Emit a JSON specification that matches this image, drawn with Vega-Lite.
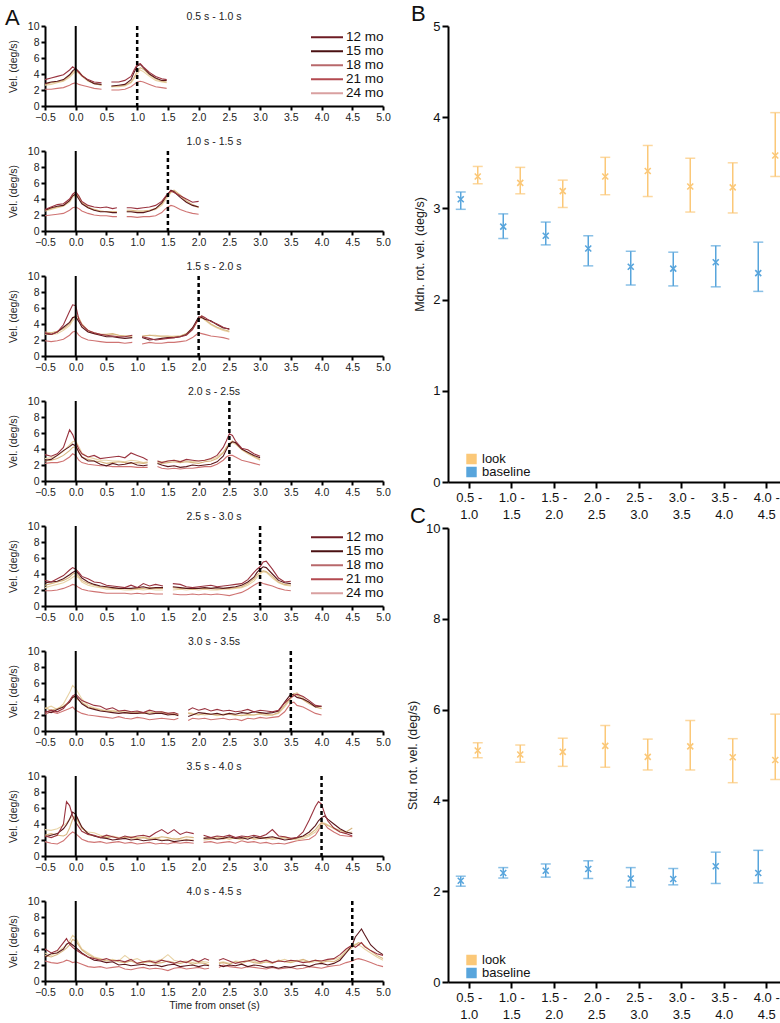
{
"$schema": "https://vega.github.io/schema/vega-lite/v6.json",
"background": "white",
"padding": {"left": 5, "top": 3, "right": 0, "bottom": 0},
"config": {
  "view": {"stroke": null},
  "font": "Liberation Sans",
  "axis": {"domainColor": "#000", "domainWidth": 2, "tickColor": "#000", "tickWidth": 2, "tickSize": 4, "labelColor": "#222", "labelFontSize": 10.5, "titleFontSize": 10.5, "titleFontWeight": "normal", "titleColor": "#222", "grid": false, "labelPadding": 2, "labelOverlap": false, "labelFlush": false, "labelFont": "Liberation Sans", "titleFont": "Liberation Sans"},
  "title": {"fontSize": 10.5, "fontWeight": "normal", "color": "#222", "offset": -1, "frame": "group", "font": "Liberation Sans"},
  "legend": {"labelFont": "Liberation Sans"}
},
"datasets": {
"refs": [
{"p":1,"t":0,"k":"on"},{"p":1,"t":1.0,"k":"end"},
{"p":2,"t":0,"k":"on"},{"p":2,"t":1.5,"k":"end"},
{"p":3,"t":0,"k":"on"},{"p":3,"t":2.0,"k":"end"},
{"p":4,"t":0,"k":"on"},{"p":4,"t":2.5,"k":"end"},
{"p":5,"t":0,"k":"on"},{"p":5,"t":3.0,"k":"end"},
{"p":6,"t":0,"k":"on"},{"p":6,"t":3.5,"k":"end"},
{"p":7,"t":0,"k":"on"},{"p":7,"t":4.0,"k":"end"},
{"p":8,"t":0,"k":"on"},{"p":8,"t":4.5,"k":"end"}
],
"traces": [
{"p":1,"s":1,"t":-0.5,"m12":3.3,"m15":2.8,"m18":2.7,"m21":2.1,"m24":2.6},
{"p":1,"s":1,"t":-0.4,"m12":3.5,"m15":3.0,"m18":2.9,"m21":2.1,"m24":2.7},
{"p":1,"s":1,"t":-0.3,"m12":3.7,"m15":3.1,"m18":3.0,"m21":2.2,"m24":2.9},
{"p":1,"s":1,"t":-0.2,"m12":3.9,"m15":3.3,"m18":3.2,"m21":2.3,"m24":3.1},
{"p":1,"s":1,"t":-0.1,"m12":4.5,"m15":3.9,"m18":3.8,"m21":2.6,"m24":3.6},
{"p":1,"s":1,"t":-0.05,"m12":4.9,"m15":4.4,"m18":4.2,"m21":2.8,"m24":4.0},
{"p":1,"s":1,"t":0,"m12":4.6,"m15":4.7,"m18":4.5,"m21":2.9,"m24":4.3},
{"p":1,"s":1,"t":0.05,"m12":4.2,"m15":4.3,"m18":4.3,"m21":2.7,"m24":4.1},
{"p":1,"s":1,"t":0.1,"m12":3.8,"m15":3.8,"m18":3.9,"m21":2.6,"m24":3.7},
{"p":1,"s":1,"t":0.2,"m12":3.3,"m15":3.2,"m18":3.2,"m21":2.4,"m24":3.1},
{"p":1,"s":1,"t":0.3,"m12":3.0,"m15":2.8,"m18":2.8,"m21":2.2,"m24":2.8},
{"p":1,"s":1,"t":0.42,"m12":2.9,"m15":2.7,"m18":2.6,"m21":2.1,"m24":2.6},
{"p":1,"s":2,"t":0.58,"m12":3.0,"m15":2.5,"m18":2.4,"m21":2.0,"m24":2.4},
{"p":1,"s":2,"t":0.7,"m12":3.0,"m15":2.6,"m18":2.5,"m21":2.0,"m24":2.4},
{"p":1,"s":2,"t":0.8,"m12":3.2,"m15":2.7,"m18":2.6,"m21":2.1,"m24":2.5},
{"p":1,"s":2,"t":0.9,"m12":3.7,"m15":3.3,"m18":3.0,"m21":2.4,"m24":2.9},
{"p":1,"s":2,"t":0.95,"m12":4.5,"m15":4.2,"m18":3.6,"m21":2.7,"m24":3.4},
{"p":1,"s":2,"t":1.0,"m12":5.2,"m15":5.0,"m18":4.3,"m21":3.0,"m24":4.0},
{"p":1,"s":2,"t":1.05,"m12":5.3,"m15":5.2,"m18":4.8,"m21":3.1,"m24":4.5},
{"p":1,"s":2,"t":1.1,"m12":4.9,"m15":4.8,"m18":4.6,"m21":3.0,"m24":4.3},
{"p":1,"s":2,"t":1.2,"m12":4.2,"m15":4.0,"m18":3.9,"m21":2.7,"m24":3.7},
{"p":1,"s":2,"t":1.3,"m12":3.7,"m15":3.5,"m18":3.4,"m21":2.4,"m24":3.2},
{"p":1,"s":2,"t":1.4,"m12":3.4,"m15":3.2,"m18":3.1,"m21":2.3,"m24":3.0},
{"p":1,"s":2,"t":1.48,"m12":3.3,"m15":3.2,"m18":3.0,"m21":2.2,"m24":2.9},
{"p":2,"s":1,"t":-0.5,"m12":2.7,"m15":2.6,"m18":2.6,"m21":1.9,"m24":2.5},
{"p":2,"s":1,"t":-0.4,"m12":3.0,"m15":2.9,"m18":2.8,"m21":2.0,"m24":2.7},
{"p":2,"s":1,"t":-0.3,"m12":3.3,"m15":3.1,"m18":3.0,"m21":2.1,"m24":2.9},
{"p":2,"s":1,"t":-0.2,"m12":3.4,"m15":3.2,"m18":3.2,"m21":2.2,"m24":3.1},
{"p":2,"s":1,"t":-0.1,"m12":4.0,"m15":3.8,"m18":3.8,"m21":2.6,"m24":3.6},
{"p":2,"s":1,"t":-0.05,"m12":4.6,"m15":4.4,"m18":4.4,"m21":2.9,"m24":4.2},
{"p":2,"s":1,"t":0,"m12":4.9,"m15":4.6,"m18":4.7,"m21":3.0,"m24":4.5},
{"p":2,"s":1,"t":0.05,"m12":4.4,"m15":4.0,"m18":4.3,"m21":2.8,"m24":4.2},
{"p":2,"s":1,"t":0.1,"m12":3.7,"m15":3.4,"m18":3.6,"m21":2.5,"m24":3.5},
{"p":2,"s":1,"t":0.2,"m12":3.2,"m15":2.9,"m18":3.0,"m21":2.2,"m24":2.9},
{"p":2,"s":1,"t":0.3,"m12":3.0,"m15":2.6,"m18":2.7,"m21":2.0,"m24":2.6},
{"p":2,"s":1,"t":0.4,"m12":2.9,"m15":2.4,"m18":2.5,"m21":1.9,"m24":2.5},
{"p":2,"s":1,"t":0.5,"m12":3.0,"m15":2.4,"m18":2.4,"m21":1.9,"m24":2.4},
{"p":2,"s":1,"t":0.6,"m12":2.8,"m15":2.3,"m18":2.4,"m21":1.8,"m24":2.4},
{"p":2,"s":1,"t":0.67,"m12":2.9,"m15":2.3,"m18":2.4,"m21":1.8,"m24":2.4},
{"p":2,"s":2,"t":0.83,"m12":2.9,"m15":2.4,"m18":2.6,"m21":1.8,"m24":2.4},
{"p":2,"s":2,"t":0.9,"m12":2.9,"m15":2.4,"m18":2.6,"m21":1.8,"m24":2.4},
{"p":2,"s":2,"t":1.0,"m12":2.8,"m15":2.3,"m18":2.5,"m21":1.7,"m24":2.4},
{"p":2,"s":2,"t":1.1,"m12":2.9,"m15":2.3,"m18":2.5,"m21":1.8,"m24":2.4},
{"p":2,"s":2,"t":1.2,"m12":3.0,"m15":2.5,"m18":2.6,"m21":1.8,"m24":2.5},
{"p":2,"s":2,"t":1.3,"m12":3.2,"m15":2.8,"m18":2.8,"m21":1.9,"m24":2.7},
{"p":2,"s":2,"t":1.4,"m12":3.7,"m15":3.5,"m18":3.4,"m21":2.3,"m24":3.2},
{"p":2,"s":2,"t":1.45,"m12":4.2,"m15":4.1,"m18":4.0,"m21":2.7,"m24":3.8},
{"p":2,"s":2,"t":1.5,"m12":4.7,"m15":4.6,"m18":4.5,"m21":3.0,"m24":4.3},
{"p":2,"s":2,"t":1.55,"m12":5.0,"m15":5.1,"m18":4.9,"m21":3.2,"m24":4.8},
{"p":2,"s":2,"t":1.6,"m12":4.8,"m15":4.9,"m18":5.1,"m21":3.1,"m24":5.0},
{"p":2,"s":2,"t":1.7,"m12":4.4,"m15":4.2,"m18":4.5,"m21":2.7,"m24":4.4},
{"p":2,"s":2,"t":1.8,"m12":4.0,"m15":3.6,"m18":3.8,"m21":2.4,"m24":3.7},
{"p":2,"s":2,"t":1.9,"m12":3.6,"m15":3.2,"m18":3.3,"m21":2.2,"m24":3.2},
{"p":2,"s":2,"t":2.0,"m12":3.7,"m15":3.0,"m18":3.0,"m21":2.1,"m24":2.9},
{"p":3,"s":1,"t":-0.5,"m12":2.9,"m15":2.8,"m18":3.0,"m21":1.9,"m24":2.7},
{"p":3,"s":1,"t":-0.4,"m12":2.7,"m15":2.7,"m18":2.9,"m21":1.8,"m24":2.7},
{"p":3,"s":1,"t":-0.3,"m12":3.0,"m15":3.0,"m18":3.1,"m21":1.9,"m24":2.8},
{"p":3,"s":1,"t":-0.2,"m12":3.9,"m15":3.6,"m18":3.4,"m21":2.1,"m24":3.2},
{"p":3,"s":1,"t":-0.1,"m12":5.6,"m15":4.2,"m18":4.0,"m21":2.6,"m24":3.8},
{"p":3,"s":1,"t":-0.05,"m12":6.4,"m15":4.8,"m18":4.7,"m21":3.0,"m24":4.4},
{"p":3,"s":1,"t":0,"m12":6.3,"m15":4.9,"m18":5.1,"m21":3.1,"m24":4.8},
{"p":3,"s":1,"t":0.05,"m12":4.6,"m15":4.3,"m18":4.8,"m21":2.6,"m24":4.6},
{"p":3,"s":1,"t":0.1,"m12":3.9,"m15":3.6,"m18":4.0,"m21":2.3,"m24":3.8},
{"p":3,"s":1,"t":0.2,"m12":3.2,"m15":3.0,"m18":3.2,"m21":2.0,"m24":3.1},
{"p":3,"s":1,"t":0.3,"m12":2.9,"m15":2.8,"m18":2.9,"m21":1.9,"m24":2.8},
{"p":3,"s":1,"t":0.4,"m12":2.7,"m15":2.6,"m18":2.7,"m21":1.8,"m24":2.7},
{"p":3,"s":1,"t":0.5,"m12":2.6,"m15":2.4,"m18":2.7,"m21":1.7,"m24":2.6},
{"p":3,"s":1,"t":0.6,"m12":2.5,"m15":2.4,"m18":2.8,"m21":1.7,"m24":2.7},
{"p":3,"s":1,"t":0.7,"m12":2.4,"m15":2.3,"m18":2.6,"m21":1.7,"m24":2.6},
{"p":3,"s":1,"t":0.8,"m12":2.4,"m15":2.2,"m18":2.5,"m21":1.6,"m24":2.5},
{"p":3,"s":1,"t":0.92,"m12":2.6,"m15":2.3,"m18":2.5,"m21":1.7,"m24":2.4},
{"p":3,"s":2,"t":1.08,"m12":2.4,"m15":2.3,"m18":2.5,"m21":1.5,"m24":2.4},
{"p":3,"s":2,"t":1.2,"m12":2.2,"m15":2.0,"m18":2.6,"m21":1.7,"m24":2.6},
{"p":3,"s":2,"t":1.3,"m12":2.0,"m15":2.1,"m18":2.5,"m21":1.6,"m24":2.6},
{"p":3,"s":2,"t":1.4,"m12":2.1,"m15":2.2,"m18":2.5,"m21":1.6,"m24":2.4},
{"p":3,"s":2,"t":1.5,"m12":2.2,"m15":2.3,"m18":2.5,"m21":1.7,"m24":2.4},
{"p":3,"s":2,"t":1.6,"m12":2.3,"m15":2.3,"m18":2.4,"m21":1.7,"m24":2.5},
{"p":3,"s":2,"t":1.7,"m12":2.4,"m15":2.4,"m18":2.5,"m21":1.8,"m24":2.5},
{"p":3,"s":2,"t":1.8,"m12":2.6,"m15":2.7,"m18":2.8,"m21":1.9,"m24":2.7},
{"p":3,"s":2,"t":1.9,"m12":3.3,"m15":3.5,"m18":3.5,"m21":2.3,"m24":3.3},
{"p":3,"s":2,"t":1.95,"m12":4.0,"m15":4.2,"m18":4.1,"m21":2.6,"m24":3.9},
{"p":3,"s":2,"t":2.0,"m12":4.6,"m15":4.9,"m18":4.8,"m21":2.9,"m24":4.6},
{"p":3,"s":2,"t":2.05,"m12":5.0,"m15":4.8,"m18":5.0,"m21":2.8,"m24":4.8},
{"p":3,"s":2,"t":2.1,"m12":4.8,"m15":4.6,"m18":4.6,"m21":2.7,"m24":4.5},
{"p":3,"s":2,"t":2.2,"m12":4.3,"m15":4.4,"m18":4.0,"m21":2.5,"m24":3.9},
{"p":3,"s":2,"t":2.3,"m12":4.0,"m15":3.9,"m18":3.6,"m21":2.4,"m24":3.5},
{"p":3,"s":2,"t":2.4,"m12":3.6,"m15":3.5,"m18":3.3,"m21":2.3,"m24":3.2},
{"p":3,"s":2,"t":2.5,"m12":3.3,"m15":3.4,"m18":3.1,"m21":2.1,"m24":3.0},
{"p":4,"s":1,"t":-0.5,"m12":3.3,"m15":2.6,"m18":2.5,"m21":2.2,"m24":2.8},
{"p":4,"s":1,"t":-0.4,"m12":3.1,"m15":2.7,"m18":2.6,"m21":2.3,"m24":2.9},
{"p":4,"s":1,"t":-0.3,"m12":3.4,"m15":3.2,"m18":2.8,"m21":2.3,"m24":3.2},
{"p":4,"s":1,"t":-0.2,"m12":4.2,"m15":3.8,"m18":3.2,"m21":2.5,"m24":3.7},
{"p":4,"s":1,"t":-0.1,"m12":6.4,"m15":4.3,"m18":3.8,"m21":3.0,"m24":4.5},
{"p":4,"s":1,"t":-0.05,"m12":5.8,"m15":4.6,"m18":4.2,"m21":3.4,"m24":4.9},
{"p":4,"s":1,"t":0,"m12":4.8,"m15":4.4,"m18":4.3,"m21":3.2,"m24":5.0},
{"p":4,"s":1,"t":0.05,"m12":4.0,"m15":3.6,"m18":3.7,"m21":2.6,"m24":4.3},
{"p":4,"s":1,"t":0.1,"m12":3.4,"m15":3.0,"m18":3.0,"m21":2.3,"m24":3.5},
{"p":4,"s":1,"t":0.2,"m12":3.0,"m15":2.5,"m18":2.7,"m21":2.1,"m24":3.0},
{"p":4,"s":1,"t":0.3,"m12":3.2,"m15":2.5,"m18":2.5,"m21":2.0,"m24":2.8},
{"p":4,"s":1,"t":0.4,"m12":2.8,"m15":2.1,"m18":2.4,"m21":1.9,"m24":2.6},
{"p":4,"s":1,"t":0.5,"m12":2.9,"m15":1.9,"m18":2.2,"m21":1.9,"m24":2.6},
{"p":4,"s":1,"t":0.6,"m12":3.0,"m15":2.2,"m18":2.3,"m21":1.8,"m24":2.5},
{"p":4,"s":1,"t":0.7,"m12":3.1,"m15":2.0,"m18":2.4,"m21":1.8,"m24":2.5},
{"p":4,"s":1,"t":0.8,"m12":2.9,"m15":2.1,"m18":2.3,"m21":1.8,"m24":2.4},
{"p":4,"s":1,"t":0.9,"m12":3.5,"m15":2.3,"m18":2.2,"m21":1.8,"m24":2.6},
{"p":4,"s":1,"t":1.0,"m12":3.2,"m15":2.0,"m18":2.3,"m21":1.7,"m24":2.5},
{"p":4,"s":1,"t":1.1,"m12":2.9,"m15":1.9,"m18":2.2,"m21":1.7,"m24":2.3},
{"p":4,"s":1,"t":1.17,"m12":2.6,"m15":2.0,"m18":2.3,"m21":1.7,"m24":2.4},
{"p":4,"s":2,"t":1.33,"m12":2.5,"m15":2.2,"m18":2.3,"m21":1.8,"m24":2.5},
{"p":4,"s":2,"t":1.4,"m12":2.3,"m15":2.0,"m18":2.2,"m21":1.6,"m24":2.4},
{"p":4,"s":2,"t":1.5,"m12":2.5,"m15":1.8,"m18":2.3,"m21":1.5,"m24":2.5},
{"p":4,"s":2,"t":1.6,"m12":2.6,"m15":1.9,"m18":2.4,"m21":1.6,"m24":2.6},
{"p":4,"s":2,"t":1.7,"m12":2.4,"m15":1.7,"m18":2.3,"m21":1.5,"m24":2.5},
{"p":4,"s":2,"t":1.8,"m12":2.7,"m15":1.8,"m18":2.4,"m21":1.6,"m24":2.5},
{"p":4,"s":2,"t":1.9,"m12":2.6,"m15":2.0,"m18":2.3,"m21":1.6,"m24":2.4},
{"p":4,"s":2,"t":2.0,"m12":2.5,"m15":1.9,"m18":2.2,"m21":1.7,"m24":2.5},
{"p":4,"s":2,"t":2.1,"m12":2.6,"m15":2.0,"m18":2.4,"m21":1.8,"m24":2.6},
{"p":4,"s":2,"t":2.2,"m12":2.8,"m15":2.1,"m18":2.5,"m21":1.8,"m24":2.7},
{"p":4,"s":2,"t":2.3,"m12":3.2,"m15":2.4,"m18":2.8,"m21":2.1,"m24":3.0},
{"p":4,"s":2,"t":2.4,"m12":4.2,"m15":3.1,"m18":3.5,"m21":2.6,"m24":3.6},
{"p":4,"s":2,"t":2.45,"m12":5.0,"m15":3.9,"m18":4.2,"m21":3.0,"m24":4.1},
{"p":4,"s":2,"t":2.5,"m12":5.9,"m15":4.6,"m18":4.7,"m21":3.2,"m24":4.5},
{"p":4,"s":2,"t":2.55,"m12":5.7,"m15":4.9,"m18":5.0,"m21":3.2,"m24":4.8},
{"p":4,"s":2,"t":2.6,"m12":5.0,"m15":4.8,"m18":4.7,"m21":3.0,"m24":4.6},
{"p":4,"s":2,"t":2.7,"m12":4.1,"m15":4.0,"m18":4.0,"m21":2.6,"m24":3.9},
{"p":4,"s":2,"t":2.8,"m12":3.9,"m15":3.6,"m18":3.5,"m21":2.4,"m24":3.4},
{"p":4,"s":2,"t":2.9,"m12":3.4,"m15":3.2,"m18":3.1,"m21":2.2,"m24":3.0},
{"p":4,"s":2,"t":3.0,"m12":3.1,"m15":2.9,"m18":2.7,"m21":2.0,"m24":2.6},
{"p":5,"s":1,"t":-0.5,"m12":3.2,"m15":2.9,"m18":2.6,"m21":1.9,"m24":2.3},
{"p":5,"s":1,"t":-0.4,"m12":3.0,"m15":3.0,"m18":2.8,"m21":1.9,"m24":2.5},
{"p":5,"s":1,"t":-0.3,"m12":3.4,"m15":3.1,"m18":3.0,"m21":2.0,"m24":2.7},
{"p":5,"s":1,"t":-0.2,"m12":3.8,"m15":3.4,"m18":3.2,"m21":2.2,"m24":2.9},
{"p":5,"s":1,"t":-0.1,"m12":4.5,"m15":3.9,"m18":3.6,"m21":2.5,"m24":3.3},
{"p":5,"s":1,"t":-0.05,"m12":4.8,"m15":4.2,"m18":4.0,"m21":2.7,"m24":3.6},
{"p":5,"s":1,"t":0,"m12":4.6,"m15":4.4,"m18":4.1,"m21":2.6,"m24":3.8},
{"p":5,"s":1,"t":0.05,"m12":4.2,"m15":4.0,"m18":3.7,"m21":2.3,"m24":3.5},
{"p":5,"s":1,"t":0.1,"m12":3.7,"m15":3.5,"m18":3.2,"m21":2.1,"m24":3.0},
{"p":5,"s":1,"t":0.2,"m12":3.4,"m15":3.0,"m18":2.8,"m21":1.9,"m24":2.6},
{"p":5,"s":1,"t":0.3,"m12":3.0,"m15":2.7,"m18":2.6,"m21":1.8,"m24":2.4},
{"p":5,"s":1,"t":0.4,"m12":2.9,"m15":2.5,"m18":2.4,"m21":1.7,"m24":2.3},
{"p":5,"s":1,"t":0.5,"m12":2.6,"m15":2.4,"m18":2.3,"m21":1.6,"m24":2.1},
{"p":5,"s":1,"t":0.6,"m12":2.5,"m15":2.3,"m18":2.2,"m21":1.6,"m24":2.1},
{"p":5,"s":1,"t":0.7,"m12":2.4,"m15":2.2,"m18":2.2,"m21":1.6,"m24":2.1},
{"p":5,"s":1,"t":0.8,"m12":2.3,"m15":2.2,"m18":2.2,"m21":1.6,"m24":2.0},
{"p":5,"s":1,"t":0.9,"m12":2.6,"m15":2.2,"m18":2.1,"m21":1.5,"m24":2.0},
{"p":5,"s":1,"t":1.0,"m12":2.3,"m15":2.3,"m18":2.2,"m21":1.6,"m24":2.1},
{"p":5,"s":1,"t":1.1,"m12":2.8,"m15":2.4,"m18":2.2,"m21":1.5,"m24":2.0},
{"p":5,"s":1,"t":1.2,"m12":2.5,"m15":2.2,"m18":2.3,"m21":1.6,"m24":2.1},
{"p":5,"s":1,"t":1.3,"m12":2.7,"m15":2.3,"m18":2.2,"m21":1.5,"m24":2.0},
{"p":5,"s":1,"t":1.42,"m12":2.5,"m15":2.3,"m18":2.2,"m21":1.5,"m24":2.0},
{"p":5,"s":2,"t":1.58,"m12":2.8,"m15":2.4,"m18":2.3,"m21":1.5,"m24":2.0},
{"p":5,"s":2,"t":1.7,"m12":2.7,"m15":2.3,"m18":2.2,"m21":1.4,"m24":2.1},
{"p":5,"s":2,"t":1.8,"m12":2.4,"m15":2.2,"m18":2.2,"m21":1.4,"m24":2.0},
{"p":5,"s":2,"t":1.9,"m12":2.3,"m15":2.2,"m18":2.1,"m21":1.5,"m24":2.1},
{"p":5,"s":2,"t":2.0,"m12":2.4,"m15":2.2,"m18":2.2,"m21":1.4,"m24":2.0},
{"p":5,"s":2,"t":2.1,"m12":2.5,"m15":2.3,"m18":2.2,"m21":1.5,"m24":2.1},
{"p":5,"s":2,"t":2.2,"m12":2.6,"m15":2.2,"m18":2.2,"m21":1.4,"m24":2.0},
{"p":5,"s":2,"t":2.3,"m12":2.4,"m15":2.3,"m18":2.1,"m21":1.5,"m24":2.0},
{"p":5,"s":2,"t":2.4,"m12":2.5,"m15":2.2,"m18":2.2,"m21":1.4,"m24":2.1},
{"p":5,"s":2,"t":2.5,"m12":2.6,"m15":2.3,"m18":2.2,"m21":1.3,"m24":2.1},
{"p":5,"s":2,"t":2.6,"m12":2.7,"m15":2.4,"m18":2.3,"m21":1.5,"m24":2.2},
{"p":5,"s":2,"t":2.7,"m12":2.8,"m15":2.6,"m18":2.4,"m21":1.7,"m24":2.3},
{"p":5,"s":2,"t":2.8,"m12":3.3,"m15":3.0,"m18":2.8,"m21":2.1,"m24":2.6},
{"p":5,"s":2,"t":2.9,"m12":4.2,"m15":3.6,"m18":3.4,"m21":2.6,"m24":3.1},
{"p":5,"s":2,"t":2.95,"m12":4.6,"m15":4.2,"m18":3.9,"m21":2.8,"m24":3.6},
{"p":5,"s":2,"t":3.0,"m12":4.9,"m15":4.6,"m18":4.2,"m21":3.0,"m24":4.0},
{"p":5,"s":2,"t":3.05,"m12":5.5,"m15":4.9,"m18":4.4,"m21":2.8,"m24":4.3},
{"p":5,"s":2,"t":3.1,"m12":5.6,"m15":4.8,"m18":4.3,"m21":2.7,"m24":4.2},
{"p":5,"s":2,"t":3.2,"m12":4.6,"m15":4.0,"m18":3.7,"m21":2.5,"m24":3.5},
{"p":5,"s":2,"t":3.3,"m12":3.5,"m15":3.2,"m18":3.0,"m21":2.2,"m24":2.9},
{"p":5,"s":2,"t":3.4,"m12":3.0,"m15":2.9,"m18":2.7,"m21":2.0,"m24":2.6},
{"p":5,"s":2,"t":3.5,"m12":3.1,"m15":2.8,"m18":2.6,"m21":1.9,"m24":2.5},
{"p":6,"s":1,"t":-0.5,"m12":2.3,"m15":2.5,"m18":2.9,"m21":2.1,"m24":2.8},
{"p":6,"s":1,"t":-0.4,"m12":2.6,"m15":2.3,"m18":2.6,"m21":2.4,"m24":3.1},
{"p":6,"s":1,"t":-0.3,"m12":2.4,"m15":2.7,"m18":2.8,"m21":2.2,"m24":2.7},
{"p":6,"s":1,"t":-0.2,"m12":2.8,"m15":3.0,"m18":3.1,"m21":2.5,"m24":3.4},
{"p":6,"s":1,"t":-0.1,"m12":3.8,"m15":3.6,"m18":3.7,"m21":2.8,"m24":4.8},
{"p":6,"s":1,"t":-0.05,"m12":4.4,"m15":4.2,"m18":4.3,"m21":3.0,"m24":5.7},
{"p":6,"s":1,"t":0,"m12":4.6,"m15":4.4,"m18":4.1,"m21":2.6,"m24":5.3},
{"p":6,"s":1,"t":0.1,"m12":3.8,"m15":3.4,"m18":3.6,"m21":2.2,"m24":4.0},
{"p":6,"s":1,"t":0.2,"m12":3.5,"m15":2.9,"m18":3.0,"m21":2.0,"m24":3.2},
{"p":6,"s":1,"t":0.3,"m12":3.2,"m15":2.7,"m18":2.8,"m21":1.9,"m24":2.9},
{"p":6,"s":1,"t":0.4,"m12":3.1,"m15":2.5,"m18":2.6,"m21":1.8,"m24":2.7},
{"p":6,"s":1,"t":0.5,"m12":2.7,"m15":2.4,"m18":2.5,"m21":1.7,"m24":2.5},
{"p":6,"s":1,"t":0.6,"m12":2.9,"m15":2.3,"m18":2.4,"m21":1.6,"m24":2.6},
{"p":6,"s":1,"t":0.7,"m12":2.5,"m15":2.2,"m18":2.4,"m21":1.8,"m24":2.4},
{"p":6,"s":1,"t":0.8,"m12":2.6,"m15":2.3,"m18":2.3,"m21":1.6,"m24":2.5},
{"p":6,"s":1,"t":0.9,"m12":2.4,"m15":2.2,"m18":2.2,"m21":1.5,"m24":2.3},
{"p":6,"s":1,"t":1.0,"m12":2.5,"m15":2.2,"m18":2.3,"m21":1.7,"m24":2.4},
{"p":6,"s":1,"t":1.1,"m12":2.3,"m15":2.3,"m18":2.2,"m21":1.6,"m24":2.3},
{"p":6,"s":1,"t":1.2,"m12":2.6,"m15":2.1,"m18":2.4,"m21":1.4,"m24":2.2},
{"p":6,"s":1,"t":1.3,"m12":2.4,"m15":2.2,"m18":2.2,"m21":1.5,"m24":2.3},
{"p":6,"s":1,"t":1.4,"m12":2.4,"m15":2.2,"m18":2.3,"m21":1.6,"m24":2.4},
{"p":6,"s":1,"t":1.5,"m12":2.2,"m15":2.0,"m18":2.1,"m21":1.5,"m24":2.2},
{"p":6,"s":1,"t":1.6,"m12":2.3,"m15":2.1,"m18":2.0,"m21":1.4,"m24":2.2},
{"p":6,"s":1,"t":1.67,"m12":2.1,"m15":1.9,"m18":2.1,"m21":1.6,"m24":2.0},
{"p":6,"s":2,"t":1.83,"m12":2.6,"m15":1.8,"m18":2.2,"m21":1.3,"m24":2.3},
{"p":6,"s":2,"t":1.9,"m12":2.9,"m15":2.0,"m18":2.1,"m21":1.6,"m24":2.2},
{"p":6,"s":2,"t":2.0,"m12":2.6,"m15":2.3,"m18":2.0,"m21":1.5,"m24":2.1},
{"p":6,"s":2,"t":2.1,"m12":2.8,"m15":2.2,"m18":2.2,"m21":1.6,"m24":2.0},
{"p":6,"s":2,"t":2.2,"m12":2.5,"m15":2.1,"m18":2.1,"m21":1.4,"m24":2.1},
{"p":6,"s":2,"t":2.3,"m12":2.7,"m15":2.2,"m18":2.0,"m21":1.5,"m24":1.9},
{"p":6,"s":2,"t":2.4,"m12":2.5,"m15":2.0,"m18":2.1,"m21":1.6,"m24":2.0},
{"p":6,"s":2,"t":2.5,"m12":2.6,"m15":2.2,"m18":2.2,"m21":1.4,"m24":2.1},
{"p":6,"s":2,"t":2.6,"m12":2.4,"m15":2.1,"m18":2.0,"m21":1.5,"m24":1.9},
{"p":6,"s":2,"t":2.7,"m12":2.5,"m15":2.3,"m18":1.9,"m21":1.3,"m24":2.0},
{"p":6,"s":2,"t":2.8,"m12":2.7,"m15":2.2,"m18":2.1,"m21":1.6,"m24":1.9},
{"p":6,"s":2,"t":2.9,"m12":2.4,"m15":2.4,"m18":2.0,"m21":1.5,"m24":2.0},
{"p":6,"s":2,"t":3.0,"m12":2.6,"m15":2.3,"m18":2.2,"m21":1.7,"m24":2.1},
{"p":6,"s":2,"t":3.1,"m12":2.5,"m15":2.2,"m18":2.1,"m21":1.6,"m24":1.9},
{"p":6,"s":2,"t":3.2,"m12":2.4,"m15":2.3,"m18":2.0,"m21":1.7,"m24":2.0},
{"p":6,"s":2,"t":3.3,"m12":2.6,"m15":2.5,"m18":2.3,"m21":1.8,"m24":2.2},
{"p":6,"s":2,"t":3.4,"m12":3.5,"m15":3.6,"m18":3.2,"m21":2.4,"m24":3.0},
{"p":6,"s":2,"t":3.5,"m12":4.2,"m15":4.6,"m18":4.2,"m21":3.5,"m24":4.0},
{"p":6,"s":2,"t":3.55,"m12":4.4,"m15":4.5,"m18":4.7,"m21":3.6,"m24":4.6},
{"p":6,"s":2,"t":3.6,"m12":4.6,"m15":4.2,"m18":4.5,"m21":3.2,"m24":4.8},
{"p":6,"s":2,"t":3.7,"m12":4.3,"m15":4.0,"m18":3.9,"m21":3.0,"m24":4.1},
{"p":6,"s":2,"t":3.8,"m12":3.8,"m15":3.6,"m18":3.4,"m21":2.6,"m24":3.5},
{"p":6,"s":2,"t":3.9,"m12":3.2,"m15":3.0,"m18":3.0,"m21":2.2,"m24":3.1},
{"p":6,"s":2,"t":4.0,"m12":3.1,"m15":3.1,"m18":2.8,"m21":2.0,"m24":3.0},
{"p":7,"s":1,"t":-0.5,"m12":2.5,"m15":2.4,"m18":2.6,"m21":1.8,"m24":3.3},
{"p":7,"s":1,"t":-0.4,"m12":2.3,"m15":2.6,"m18":2.8,"m21":1.6,"m24":3.2},
{"p":7,"s":1,"t":-0.3,"m12":2.6,"m15":2.8,"m18":2.6,"m21":1.5,"m24":3.4},
{"p":7,"s":1,"t":-0.2,"m12":4.0,"m15":3.4,"m18":2.5,"m21":1.9,"m24":3.8},
{"p":7,"s":1,"t":-0.15,"m12":6.8,"m15":3.9,"m18":2.7,"m21":2.3,"m24":4.1},
{"p":7,"s":1,"t":-0.1,"m12":6.3,"m15":4.6,"m18":3.5,"m21":2.7,"m24":4.6},
{"p":7,"s":1,"t":-0.05,"m12":5.0,"m15":5.5,"m18":4.6,"m21":3.0,"m24":5.0},
{"p":7,"s":1,"t":0,"m12":4.2,"m15":5.2,"m18":4.9,"m21":2.8,"m24":4.8},
{"p":7,"s":1,"t":0.1,"m12":3.1,"m15":3.6,"m18":3.6,"m21":2.1,"m24":3.4},
{"p":7,"s":1,"t":0.2,"m12":2.7,"m15":2.8,"m18":2.7,"m21":1.8,"m24":3.0},
{"p":7,"s":1,"t":0.3,"m12":2.6,"m15":2.5,"m18":2.5,"m21":1.7,"m24":2.9},
{"p":7,"s":1,"t":0.4,"m12":2.3,"m15":2.3,"m18":2.4,"m21":1.8,"m24":2.6},
{"p":7,"s":1,"t":0.5,"m12":2.6,"m15":2.2,"m18":2.3,"m21":1.6,"m24":2.4},
{"p":7,"s":1,"t":0.6,"m12":2.4,"m15":2.0,"m18":2.4,"m21":1.7,"m24":2.5},
{"p":7,"s":1,"t":0.7,"m12":2.2,"m15":2.1,"m18":2.2,"m21":1.8,"m24":2.3},
{"p":7,"s":1,"t":0.8,"m12":2.5,"m15":2.2,"m18":2.3,"m21":1.6,"m24":2.4},
{"p":7,"s":1,"t":0.9,"m12":2.3,"m15":2.0,"m18":2.4,"m21":1.7,"m24":2.2},
{"p":7,"s":1,"t":1.0,"m12":2.5,"m15":2.1,"m18":2.2,"m21":1.5,"m24":2.3},
{"p":7,"s":1,"t":1.1,"m12":2.6,"m15":1.9,"m18":2.3,"m21":1.6,"m24":2.4},
{"p":7,"s":1,"t":1.2,"m12":2.4,"m15":2.0,"m18":2.1,"m21":1.7,"m24":2.2},
{"p":7,"s":1,"t":1.3,"m12":2.9,"m15":2.1,"m18":2.2,"m21":1.5,"m24":2.3},
{"p":7,"s":1,"t":1.4,"m12":3.3,"m15":1.9,"m18":2.4,"m21":1.6,"m24":2.0},
{"p":7,"s":1,"t":1.5,"m12":2.8,"m15":2.0,"m18":2.3,"m21":1.5,"m24":2.1},
{"p":7,"s":1,"t":1.6,"m12":3.3,"m15":1.8,"m18":2.1,"m21":1.7,"m24":2.2},
{"p":7,"s":1,"t":1.7,"m12":2.7,"m15":1.9,"m18":2.2,"m21":1.6,"m24":2.0},
{"p":7,"s":1,"t":1.8,"m12":3.0,"m15":2.0,"m18":2.4,"m21":1.7,"m24":2.1},
{"p":7,"s":1,"t":1.92,"m12":2.8,"m15":1.9,"m18":2.3,"m21":1.6,"m24":2.0},
{"p":7,"s":2,"t":2.08,"m12":2.6,"m15":2.2,"m18":2.0,"m21":1.7,"m24":2.3},
{"p":7,"s":2,"t":2.2,"m12":2.3,"m15":2.3,"m18":2.1,"m21":1.8,"m24":2.2},
{"p":7,"s":2,"t":2.3,"m12":2.5,"m15":2.1,"m18":2.2,"m21":1.6,"m24":2.4},
{"p":7,"s":2,"t":2.4,"m12":2.4,"m15":2.2,"m18":2.3,"m21":1.7,"m24":2.1},
{"p":7,"s":2,"t":2.5,"m12":2.6,"m15":2.4,"m18":2.1,"m21":1.8,"m24":2.3},
{"p":7,"s":2,"t":2.6,"m12":2.3,"m15":2.2,"m18":2.3,"m21":1.6,"m24":2.2},
{"p":7,"s":2,"t":2.7,"m12":2.5,"m15":2.3,"m18":2.2,"m21":1.9,"m24":2.0},
{"p":7,"s":2,"t":2.8,"m12":2.4,"m15":2.1,"m18":2.4,"m21":1.7,"m24":2.3},
{"p":7,"s":2,"t":2.9,"m12":2.6,"m15":2.4,"m18":2.1,"m21":1.8,"m24":2.2},
{"p":7,"s":2,"t":3.0,"m12":2.4,"m15":2.2,"m18":2.2,"m21":1.6,"m24":2.4},
{"p":7,"s":2,"t":3.1,"m12":2.7,"m15":2.3,"m18":2.3,"m21":1.7,"m24":2.1},
{"p":7,"s":2,"t":3.2,"m12":3.3,"m15":2.4,"m18":2.1,"m21":1.5,"m24":2.3},
{"p":7,"s":2,"t":3.3,"m12":2.5,"m15":2.2,"m18":2.2,"m21":1.6,"m24":2.2},
{"p":7,"s":2,"t":3.4,"m12":2.4,"m15":2.0,"m18":2.3,"m21":1.5,"m24":2.4},
{"p":7,"s":2,"t":3.5,"m12":2.2,"m15":2.1,"m18":2.1,"m21":1.7,"m24":2.2},
{"p":7,"s":2,"t":3.6,"m12":2.3,"m15":2.3,"m18":2.2,"m21":1.9,"m24":2.0},
{"p":7,"s":2,"t":3.7,"m12":3.0,"m15":2.5,"m18":2.4,"m21":2.0,"m24":2.2},
{"p":7,"s":2,"t":3.8,"m12":4.5,"m15":3.0,"m18":2.7,"m21":2.1,"m24":2.5},
{"p":7,"s":2,"t":3.9,"m12":6.2,"m15":3.8,"m18":3.3,"m21":2.6,"m24":3.0},
{"p":7,"s":2,"t":3.95,"m12":6.8,"m15":4.4,"m18":3.8,"m21":3.2,"m24":3.5},
{"p":7,"s":2,"t":4.0,"m12":6.5,"m15":4.8,"m18":4.2,"m21":4.2,"m24":3.9},
{"p":7,"s":2,"t":4.05,"m12":5.3,"m15":5.0,"m18":4.0,"m21":4.0,"m24":4.1},
{"p":7,"s":2,"t":4.1,"m12":4.4,"m15":4.6,"m18":3.8,"m21":3.5,"m24":3.9},
{"p":7,"s":2,"t":4.2,"m12":3.5,"m15":4.0,"m18":3.5,"m21":3.0,"m24":3.4},
{"p":7,"s":2,"t":4.3,"m12":3.0,"m15":3.4,"m18":3.2,"m21":2.6,"m24":3.0},
{"p":7,"s":2,"t":4.4,"m12":2.8,"m15":3.0,"m18":3.0,"m21":2.5,"m24":2.9},
{"p":7,"s":2,"t":4.5,"m12":2.5,"m15":2.8,"m18":3.5,"m21":2.4,"m24":3.0},
{"p":8,"s":1,"t":-0.5,"m12":4.0,"m15":3.0,"m18":3.2,"m21":2.5,"m24":3.5},
{"p":8,"s":1,"t":-0.4,"m12":3.5,"m15":3.4,"m18":3.0,"m21":2.3,"m24":3.2},
{"p":8,"s":1,"t":-0.3,"m12":3.8,"m15":3.5,"m18":3.3,"m21":2.2,"m24":3.6},
{"p":8,"s":1,"t":-0.2,"m12":4.8,"m15":4.0,"m18":3.8,"m21":2.4,"m24":4.2},
{"p":8,"s":1,"t":-0.15,"m12":5.3,"m15":4.6,"m18":4.1,"m21":2.6,"m24":4.5},
{"p":8,"s":1,"t":-0.1,"m12":4.6,"m15":4.8,"m18":4.5,"m21":2.5,"m24":5.0},
{"p":8,"s":1,"t":-0.05,"m12":4.2,"m15":4.5,"m18":5.2,"m21":2.3,"m24":5.7},
{"p":8,"s":1,"t":0,"m12":3.9,"m15":4.2,"m18":5.0,"m21":2.4,"m24":5.4},
{"p":8,"s":1,"t":0.1,"m12":3.4,"m15":3.5,"m18":3.9,"m21":2.1,"m24":4.0},
{"p":8,"s":1,"t":0.2,"m12":3.0,"m15":3.0,"m18":3.3,"m21":1.8,"m24":3.5},
{"p":8,"s":1,"t":0.3,"m12":2.8,"m15":2.6,"m18":2.9,"m21":1.7,"m24":3.0},
{"p":8,"s":1,"t":0.4,"m12":2.6,"m15":2.5,"m18":2.7,"m21":1.8,"m24":2.8},
{"p":8,"s":1,"t":0.5,"m12":2.8,"m15":2.3,"m18":2.5,"m21":1.6,"m24":2.6},
{"p":8,"s":1,"t":0.6,"m12":2.5,"m15":2.4,"m18":2.6,"m21":1.7,"m24":2.7},
{"p":8,"s":1,"t":0.7,"m12":2.6,"m15":2.0,"m18":2.4,"m21":1.8,"m24":2.5},
{"p":8,"s":1,"t":0.8,"m12":2.4,"m15":2.1,"m18":2.3,"m21":1.5,"m24":3.2},
{"p":8,"s":1,"t":0.9,"m12":2.7,"m15":1.9,"m18":2.5,"m21":1.4,"m24":2.6},
{"p":8,"s":1,"t":1.0,"m12":2.2,"m15":2.0,"m18":2.2,"m21":1.6,"m24":2.8},
{"p":8,"s":1,"t":1.1,"m12":2.4,"m15":2.1,"m18":2.3,"m21":1.7,"m24":2.4},
{"p":8,"s":1,"t":1.2,"m12":2.5,"m15":1.9,"m18":2.4,"m21":1.5,"m24":2.6},
{"p":8,"s":1,"t":1.3,"m12":2.3,"m15":2.0,"m18":2.2,"m21":1.6,"m24":2.5},
{"p":8,"s":1,"t":1.4,"m12":2.6,"m15":1.8,"m18":2.3,"m21":1.5,"m24":2.7},
{"p":8,"s":1,"t":1.5,"m12":2.4,"m15":2.0,"m18":2.5,"m21":1.3,"m24":3.3},
{"p":8,"s":1,"t":1.6,"m12":2.2,"m15":2.1,"m18":2.3,"m21":1.6,"m24":2.6},
{"p":8,"s":1,"t":1.7,"m12":2.5,"m15":1.8,"m18":2.2,"m21":1.7,"m24":2.4},
{"p":8,"s":1,"t":1.8,"m12":2.3,"m15":1.9,"m18":2.4,"m21":1.5,"m24":2.5},
{"p":8,"s":1,"t":1.9,"m12":2.7,"m15":2.0,"m18":2.1,"m21":1.6,"m24":2.3},
{"p":8,"s":1,"t":2.0,"m12":2.4,"m15":1.8,"m18":2.3,"m21":1.7,"m24":2.5},
{"p":8,"s":1,"t":2.1,"m12":2.8,"m15":2.0,"m18":2.2,"m21":1.5,"m24":2.4},
{"p":8,"s":1,"t":2.17,"m12":2.6,"m15":1.9,"m18":2.0,"m21":1.6,"m24":2.3},
{"p":8,"s":2,"t":2.33,"m12":2.6,"m15":2.0,"m18":2.2,"m21":1.7,"m24":2.3},
{"p":8,"s":2,"t":2.4,"m12":2.8,"m15":1.8,"m18":2.3,"m21":2.0,"m24":2.4},
{"p":8,"s":2,"t":2.5,"m12":2.5,"m15":2.0,"m18":2.1,"m21":1.8,"m24":2.2},
{"p":8,"s":2,"t":2.6,"m12":2.2,"m15":1.9,"m18":2.4,"m21":1.7,"m24":2.5},
{"p":8,"s":2,"t":2.7,"m12":2.4,"m15":2.1,"m18":2.2,"m21":1.6,"m24":2.4},
{"p":8,"s":2,"t":2.8,"m12":2.5,"m15":1.8,"m18":2.5,"m21":1.8,"m24":2.6},
{"p":8,"s":2,"t":2.9,"m12":2.7,"m15":2.0,"m18":2.3,"m21":1.7,"m24":2.5},
{"p":8,"s":2,"t":3.0,"m12":2.4,"m15":1.9,"m18":2.2,"m21":1.6,"m24":2.2},
{"p":8,"s":2,"t":3.1,"m12":2.6,"m15":1.7,"m18":2.4,"m21":1.5,"m24":2.4},
{"p":8,"s":2,"t":3.2,"m12":2.3,"m15":1.8,"m18":2.2,"m21":1.7,"m24":2.3},
{"p":8,"s":2,"t":3.3,"m12":2.5,"m15":1.6,"m18":2.6,"m21":1.5,"m24":2.5},
{"p":8,"s":2,"t":3.4,"m12":2.4,"m15":1.8,"m18":2.4,"m21":1.6,"m24":2.7},
{"p":8,"s":2,"t":3.5,"m12":2.6,"m15":1.7,"m18":2.3,"m21":1.7,"m24":2.4},
{"p":8,"s":2,"t":3.6,"m12":2.5,"m15":1.9,"m18":2.5,"m21":1.5,"m24":2.6},
{"p":8,"s":2,"t":3.7,"m12":2.3,"m15":2.0,"m18":2.7,"m21":1.6,"m24":2.5},
{"p":8,"s":2,"t":3.8,"m12":2.4,"m15":1.8,"m18":2.4,"m21":1.8,"m24":2.3},
{"p":8,"s":2,"t":3.9,"m12":2.6,"m15":2.1,"m18":2.6,"m21":1.7,"m24":2.4},
{"p":8,"s":2,"t":4.0,"m12":2.5,"m15":2.2,"m18":2.3,"m21":1.6,"m24":2.5},
{"p":8,"s":2,"t":4.1,"m12":2.7,"m15":2.0,"m18":2.5,"m21":1.8,"m24":2.6},
{"p":8,"s":2,"t":4.2,"m12":2.8,"m15":2.2,"m18":2.4,"m21":1.9,"m24":2.7},
{"p":8,"s":2,"t":4.3,"m12":3.3,"m15":2.6,"m18":2.8,"m21":2.0,"m24":3.0},
{"p":8,"s":2,"t":4.4,"m12":4.0,"m15":3.5,"m18":3.6,"m21":2.3,"m24":3.8},
{"p":8,"s":2,"t":4.5,"m12":4.5,"m15":4.5,"m18":4.2,"m21":2.5,"m24":4.4},
{"p":8,"s":2,"t":4.55,"m12":4.2,"m15":5.5,"m18":4.5,"m21":2.7,"m24":4.6},
{"p":8,"s":2,"t":4.6,"m12":4.5,"m15":6.0,"m18":4.8,"m21":2.8,"m24":4.5},
{"p":8,"s":2,"t":4.65,"m12":4.8,"m15":6.5,"m18":4.7,"m21":2.7,"m24":4.3},
{"p":8,"s":2,"t":4.7,"m12":4.3,"m15":5.8,"m18":4.4,"m21":2.6,"m24":4.0},
{"p":8,"s":2,"t":4.8,"m12":3.8,"m15":4.5,"m18":3.8,"m21":2.3,"m24":3.5},
{"p":8,"s":2,"t":4.9,"m12":3.4,"m15":3.8,"m18":3.2,"m21":2.0,"m24":3.0},
{"p":8,"s":2,"t":5.0,"m12":3.2,"m15":3.3,"m18":2.8,"m21":1.8,"m24":2.6}
],
"mdn": [
{"w":"0.5 - 1.0","c":"baseline","m":3.10,"lo":2.99,"hi":3.18},
{"w":"0.5 - 1.0","c":"look","m":3.35,"lo":3.27,"hi":3.46},
{"w":"1.0 - 1.5","c":"baseline","m":2.80,"lo":2.67,"hi":2.94},
{"w":"1.0 - 1.5","c":"look","m":3.28,"lo":3.16,"hi":3.45},
{"w":"1.5 - 2.0","c":"baseline","m":2.70,"lo":2.60,"hi":2.85},
{"w":"1.5 - 2.0","c":"look","m":3.19,"lo":3.01,"hi":3.31},
{"w":"2.0 - 2.5","c":"baseline","m":2.56,"lo":2.37,"hi":2.70},
{"w":"2.0 - 2.5","c":"look","m":3.35,"lo":3.15,"hi":3.56},
{"w":"2.5 - 3.0","c":"baseline","m":2.36,"lo":2.16,"hi":2.53},
{"w":"2.5 - 3.0","c":"look","m":3.41,"lo":3.13,"hi":3.69},
{"w":"3.0 - 3.5","c":"baseline","m":2.34,"lo":2.15,"hi":2.52},
{"w":"3.0 - 3.5","c":"look","m":3.24,"lo":2.96,"hi":3.55},
{"w":"3.5 - 4.0","c":"baseline","m":2.41,"lo":2.14,"hi":2.59},
{"w":"3.5 - 4.0","c":"look","m":3.23,"lo":2.95,"hi":3.50},
{"w":"4.0 - 4.5","c":"baseline","m":2.29,"lo":2.09,"hi":2.63},
{"w":"4.0 - 4.5","c":"look","m":3.58,"lo":3.35,"hi":4.05}
],
"sd": [
{"w":"0.5 - 1.0","c":"baseline","m":2.23,"lo":2.11,"hi":2.33},
{"w":"0.5 - 1.0","c":"look","m":5.10,"lo":4.94,"hi":5.27},
{"w":"1.0 - 1.5","c":"baseline","m":2.40,"lo":2.29,"hi":2.52},
{"w":"1.0 - 1.5","c":"look","m":5.01,"lo":4.84,"hi":5.22},
{"w":"1.5 - 2.0","c":"baseline","m":2.45,"lo":2.31,"hi":2.60},
{"w":"1.5 - 2.0","c":"look","m":5.07,"lo":4.75,"hi":5.37},
{"w":"2.0 - 2.5","c":"baseline","m":2.49,"lo":2.28,"hi":2.67},
{"w":"2.0 - 2.5","c":"look","m":5.20,"lo":4.73,"hi":5.65},
{"w":"2.5 - 3.0","c":"baseline","m":2.28,"lo":2.09,"hi":2.52},
{"w":"2.5 - 3.0","c":"look","m":4.96,"lo":4.67,"hi":5.35},
{"w":"3.0 - 3.5","c":"baseline","m":2.27,"lo":2.14,"hi":2.50},
{"w":"3.0 - 3.5","c":"look","m":5.19,"lo":4.67,"hi":5.76},
{"w":"3.5 - 4.0","c":"baseline","m":2.55,"lo":2.17,"hi":2.86},
{"w":"3.5 - 4.0","c":"look","m":4.95,"lo":4.39,"hi":5.36},
{"w":"4.0 - 4.5","c":"baseline","m":2.40,"lo":2.18,"hi":2.90},
{"w":"4.0 - 4.5","c":"look","m":4.89,"lo":4.46,"hi":5.90}
]
},
"hconcat": [
{
 "title": {"text": "A", "anchor": "start", "frame": "group", "fontSize": 22, "color": "#111", "offset": -18, "dx": -40},
 "spacing": 45,
 "bounds": "flush",
 "resolve": {"scale": {"stroke": "independent"}, "legend": {"stroke": "independent"}},
 "vconcat": [
  {"width": 338, "height": 80, "title": {"text": "0.5 s - 1.0 s"},
   "layer": [
    {"data": {"name": "traces"}, "transform": [{"filter": "datum.p == 1"}, {"fold": ["m21", "m24", "m18", "m15", "m12"], "as": ["g", "v"]}],
     "mark": {"type": "line", "strokeWidth": 1.1},
     "encoding": {
      "x": {"field": "t", "type": "quantitative", "scale": {"domain": [-0.5, 5], "nice": false, "zero": false}, "axis": {"tickCount": 12, "format": ".1f", "title": null, "labelOverlap": false, "labelFlush": false}},
      "y": {"field": "v", "type": "quantitative", "scale": {"domain": [0, 10], "nice": false}, "axis": {"tickCount": 5, "title": "Vel. (deg/s)", "titlePadding": 9}},
      "color": {"field": "g", "type": "nominal", "scale": {"domain": ["m12","m15","m18","m21","m24"], "range": ["#9a3440","#5a171c","#d7b57f","#cf7473","#e8d3a6"]}, "legend": null},
      "detail": {"field": "s", "type": "nominal"}}},
    {"data": {"values": []}, "mark": {"type": "rule"},
     "encoding": {
      "stroke": {"field": "g", "type": "nominal", "scale": {"domain": ["12 mo","15 mo","18 mo","21 mo","24 mo"], "range": ["#6e1c24","#4a1012","#b8686b","#b34a50","#d9a0a0"]},
       "legend": {"orient": "none", "legendX": 265, "legendY": 6, "title": null, "symbolType": "stroke", "symbolSize": 1024, "symbolStrokeWidth": 2, "labelFontSize": 13.5, "labelColor": "#111", "padding": 0, "rowPadding": 0, "clipHeight": 10.4, "labelOffset": 2}}}},
    {"data": {"name": "refs"}, "transform": [{"filter": "datum.p == 1 && datum.k == 'on'"}], "mark": {"type": "rule", "color": "#000", "strokeWidth": 2}, "encoding": {"x": {"field": "t", "type": "quantitative"}}},
    {"data": {"name": "refs"}, "transform": [{"filter": "datum.p == 1 && datum.k == 'end'"}], "mark": {"type": "rule", "color": "#000", "strokeWidth": 2.5, "strokeDash": [4, 3]}, "encoding": {"x": {"field": "t", "type": "quantitative"}}}
   ]},
  {"width": 338, "height": 80, "title": {"text": "1.0 s - 1.5 s"},
   "layer": [
    {"data": {"name": "traces"}, "transform": [{"filter": "datum.p == 2"}, {"fold": ["m21", "m24", "m18", "m15", "m12"], "as": ["g", "v"]}],
     "mark": {"type": "line", "strokeWidth": 1.1},
     "encoding": {
      "x": {"field": "t", "type": "quantitative", "scale": {"domain": [-0.5, 5], "nice": false, "zero": false}, "axis": {"tickCount": 12, "format": ".1f", "title": null, "labelOverlap": false, "labelFlush": false}},
      "y": {"field": "v", "type": "quantitative", "scale": {"domain": [0, 10], "nice": false}, "axis": {"tickCount": 5, "title": "Vel. (deg/s)", "titlePadding": 9}},
      "color": {"field": "g", "type": "nominal", "scale": {"domain": ["m12","m15","m18","m21","m24"], "range": ["#9a3440","#5a171c","#d7b57f","#cf7473","#e8d3a6"]}, "legend": null},
      "detail": {"field": "s", "type": "nominal"}}},
    {"data": {"name": "refs"}, "transform": [{"filter": "datum.p == 2 && datum.k == 'on'"}], "mark": {"type": "rule", "color": "#000", "strokeWidth": 2}, "encoding": {"x": {"field": "t", "type": "quantitative"}}},
    {"data": {"name": "refs"}, "transform": [{"filter": "datum.p == 2 && datum.k == 'end'"}], "mark": {"type": "rule", "color": "#000", "strokeWidth": 2.5, "strokeDash": [4, 3]}, "encoding": {"x": {"field": "t", "type": "quantitative"}}}
   ]},
  {"width": 338, "height": 80, "title": {"text": "1.5 s - 2.0 s"},
   "layer": [
    {"data": {"name": "traces"}, "transform": [{"filter": "datum.p == 3"}, {"fold": ["m21", "m24", "m18", "m15", "m12"], "as": ["g", "v"]}],
     "mark": {"type": "line", "strokeWidth": 1.1},
     "encoding": {
      "x": {"field": "t", "type": "quantitative", "scale": {"domain": [-0.5, 5], "nice": false, "zero": false}, "axis": {"tickCount": 12, "format": ".1f", "title": null, "labelOverlap": false, "labelFlush": false}},
      "y": {"field": "v", "type": "quantitative", "scale": {"domain": [0, 10], "nice": false}, "axis": {"tickCount": 5, "title": "Vel. (deg/s)", "titlePadding": 9}},
      "color": {"field": "g", "type": "nominal", "scale": {"domain": ["m12","m15","m18","m21","m24"], "range": ["#9a3440","#5a171c","#d7b57f","#cf7473","#e8d3a6"]}, "legend": null},
      "detail": {"field": "s", "type": "nominal"}}},
    {"data": {"name": "refs"}, "transform": [{"filter": "datum.p == 3 && datum.k == 'on'"}], "mark": {"type": "rule", "color": "#000", "strokeWidth": 2}, "encoding": {"x": {"field": "t", "type": "quantitative"}}},
    {"data": {"name": "refs"}, "transform": [{"filter": "datum.p == 3 && datum.k == 'end'"}], "mark": {"type": "rule", "color": "#000", "strokeWidth": 2.5, "strokeDash": [4, 3]}, "encoding": {"x": {"field": "t", "type": "quantitative"}}}
   ]},
  {"width": 338, "height": 80, "title": {"text": "2.0 s - 2.5s"},
   "layer": [
    {"data": {"name": "traces"}, "transform": [{"filter": "datum.p == 4"}, {"fold": ["m21", "m24", "m18", "m15", "m12"], "as": ["g", "v"]}],
     "mark": {"type": "line", "strokeWidth": 1.1},
     "encoding": {
      "x": {"field": "t", "type": "quantitative", "scale": {"domain": [-0.5, 5], "nice": false, "zero": false}, "axis": {"tickCount": 12, "format": ".1f", "title": null, "labelOverlap": false, "labelFlush": false}},
      "y": {"field": "v", "type": "quantitative", "scale": {"domain": [0, 10], "nice": false}, "axis": {"tickCount": 5, "title": "Vel. (deg/s)", "titlePadding": 9}},
      "color": {"field": "g", "type": "nominal", "scale": {"domain": ["m12","m15","m18","m21","m24"], "range": ["#9a3440","#5a171c","#d7b57f","#cf7473","#e8d3a6"]}, "legend": null},
      "detail": {"field": "s", "type": "nominal"}}},
    {"data": {"name": "refs"}, "transform": [{"filter": "datum.p == 4 && datum.k == 'on'"}], "mark": {"type": "rule", "color": "#000", "strokeWidth": 2}, "encoding": {"x": {"field": "t", "type": "quantitative"}}},
    {"data": {"name": "refs"}, "transform": [{"filter": "datum.p == 4 && datum.k == 'end'"}], "mark": {"type": "rule", "color": "#000", "strokeWidth": 2.5, "strokeDash": [4, 3]}, "encoding": {"x": {"field": "t", "type": "quantitative"}}}
   ]},
  {"width": 338, "height": 80, "title": {"text": "2.5 s - 3.0 s"},
   "layer": [
    {"data": {"name": "traces"}, "transform": [{"filter": "datum.p == 5"}, {"fold": ["m21", "m24", "m18", "m15", "m12"], "as": ["g", "v"]}],
     "mark": {"type": "line", "strokeWidth": 1.1},
     "encoding": {
      "x": {"field": "t", "type": "quantitative", "scale": {"domain": [-0.5, 5], "nice": false, "zero": false}, "axis": {"tickCount": 12, "format": ".1f", "title": null, "labelOverlap": false, "labelFlush": false}},
      "y": {"field": "v", "type": "quantitative", "scale": {"domain": [0, 10], "nice": false}, "axis": {"tickCount": 5, "title": "Vel. (deg/s)", "titlePadding": 9}},
      "color": {"field": "g", "type": "nominal", "scale": {"domain": ["m12","m15","m18","m21","m24"], "range": ["#9a3440","#5a171c","#d7b57f","#cf7473","#e8d3a6"]}, "legend": null},
      "detail": {"field": "s", "type": "nominal"}}},
    {"data": {"values": []}, "mark": {"type": "rule"},
     "encoding": {
      "stroke": {"field": "g", "type": "nominal", "scale": {"domain": ["12 mo","15 mo","18 mo","21 mo","24 mo"], "range": ["#6e1c24","#4a1012","#b8686b","#b34a50","#d9a0a0"]},
       "legend": {"orient": "none", "legendX": 265, "legendY": 6, "title": null, "symbolType": "stroke", "symbolSize": 1024, "symbolStrokeWidth": 2, "labelFontSize": 13.5, "labelColor": "#111", "padding": 0, "rowPadding": 0, "clipHeight": 10.4, "labelOffset": 2}}}},
    {"data": {"name": "refs"}, "transform": [{"filter": "datum.p == 5 && datum.k == 'on'"}], "mark": {"type": "rule", "color": "#000", "strokeWidth": 2}, "encoding": {"x": {"field": "t", "type": "quantitative"}}},
    {"data": {"name": "refs"}, "transform": [{"filter": "datum.p == 5 && datum.k == 'end'"}], "mark": {"type": "rule", "color": "#000", "strokeWidth": 2.5, "strokeDash": [4, 3]}, "encoding": {"x": {"field": "t", "type": "quantitative"}}}
   ]},
  {"width": 338, "height": 80, "title": {"text": "3.0 s - 3.5s"},
   "layer": [
    {"data": {"name": "traces"}, "transform": [{"filter": "datum.p == 6"}, {"fold": ["m21", "m24", "m18", "m15", "m12"], "as": ["g", "v"]}],
     "mark": {"type": "line", "strokeWidth": 1.1},
     "encoding": {
      "x": {"field": "t", "type": "quantitative", "scale": {"domain": [-0.5, 5], "nice": false, "zero": false}, "axis": {"tickCount": 12, "format": ".1f", "title": null, "labelOverlap": false, "labelFlush": false}},
      "y": {"field": "v", "type": "quantitative", "scale": {"domain": [0, 10], "nice": false}, "axis": {"tickCount": 5, "title": "Vel. (deg/s)", "titlePadding": 9}},
      "color": {"field": "g", "type": "nominal", "scale": {"domain": ["m12","m15","m18","m21","m24"], "range": ["#9a3440","#5a171c","#d7b57f","#cf7473","#e8d3a6"]}, "legend": null},
      "detail": {"field": "s", "type": "nominal"}}},
    {"data": {"name": "refs"}, "transform": [{"filter": "datum.p == 6 && datum.k == 'on'"}], "mark": {"type": "rule", "color": "#000", "strokeWidth": 2}, "encoding": {"x": {"field": "t", "type": "quantitative"}}},
    {"data": {"name": "refs"}, "transform": [{"filter": "datum.p == 6 && datum.k == 'end'"}], "mark": {"type": "rule", "color": "#000", "strokeWidth": 2.5, "strokeDash": [4, 3]}, "encoding": {"x": {"field": "t", "type": "quantitative"}}}
   ]},
  {"width": 338, "height": 80, "title": {"text": "3.5 s - 4.0 s"},
   "layer": [
    {"data": {"name": "traces"}, "transform": [{"filter": "datum.p == 7"}, {"fold": ["m21", "m24", "m18", "m15", "m12"], "as": ["g", "v"]}],
     "mark": {"type": "line", "strokeWidth": 1.1},
     "encoding": {
      "x": {"field": "t", "type": "quantitative", "scale": {"domain": [-0.5, 5], "nice": false, "zero": false}, "axis": {"tickCount": 12, "format": ".1f", "title": null, "labelOverlap": false, "labelFlush": false}},
      "y": {"field": "v", "type": "quantitative", "scale": {"domain": [0, 10], "nice": false}, "axis": {"tickCount": 5, "title": "Vel. (deg/s)", "titlePadding": 9}},
      "color": {"field": "g", "type": "nominal", "scale": {"domain": ["m12","m15","m18","m21","m24"], "range": ["#9a3440","#5a171c","#d7b57f","#cf7473","#e8d3a6"]}, "legend": null},
      "detail": {"field": "s", "type": "nominal"}}},
    {"data": {"name": "refs"}, "transform": [{"filter": "datum.p == 7 && datum.k == 'on'"}], "mark": {"type": "rule", "color": "#000", "strokeWidth": 2}, "encoding": {"x": {"field": "t", "type": "quantitative"}}},
    {"data": {"name": "refs"}, "transform": [{"filter": "datum.p == 7 && datum.k == 'end'"}], "mark": {"type": "rule", "color": "#000", "strokeWidth": 2.5, "strokeDash": [4, 3]}, "encoding": {"x": {"field": "t", "type": "quantitative"}}}
   ]},
  {"width": 338, "height": 80, "title": {"text": "4.0 s - 4.5 s"},
   "layer": [
    {"data": {"name": "traces"}, "transform": [{"filter": "datum.p == 8"}, {"fold": ["m21", "m24", "m18", "m15", "m12"], "as": ["g", "v"]}],
     "mark": {"type": "line", "strokeWidth": 1.1},
     "encoding": {
      "x": {"field": "t", "type": "quantitative", "scale": {"domain": [-0.5, 5], "nice": false, "zero": false}, "axis": {"tickCount": 12, "format": ".1f", "title": "Time from onset (s)", "titlePadding": 3, "labelOverlap": false, "labelFlush": false}},
      "y": {"field": "v", "type": "quantitative", "scale": {"domain": [0, 10], "nice": false}, "axis": {"tickCount": 5, "title": "Vel. (deg/s)", "titlePadding": 9}},
      "color": {"field": "g", "type": "nominal", "scale": {"domain": ["m12","m15","m18","m21","m24"], "range": ["#9a3440","#5a171c","#d7b57f","#cf7473","#e8d3a6"]}, "legend": null},
      "detail": {"field": "s", "type": "nominal"}}},
    {"data": {"name": "refs"}, "transform": [{"filter": "datum.p == 8 && datum.k == 'on'"}], "mark": {"type": "rule", "color": "#000", "strokeWidth": 2}, "encoding": {"x": {"field": "t", "type": "quantitative"}}},
    {"data": {"name": "refs"}, "transform": [{"filter": "datum.p == 8 && datum.k == 'end'"}], "mark": {"type": "rule", "color": "#000", "strokeWidth": 2.5, "strokeDash": [4, 3]}, "encoding": {"x": {"field": "t", "type": "quantitative"}}}
   ]}
 ]
},
{
 "spacing": 46,
 "bounds": "flush",
 "resolve": {"scale": {"color": "independent"}, "legend": {"color": "independent"}},
 "vconcat": [
  {"width": 340, "height": 456,
   "title": {"text": "B", "anchor": "start", "frame": "group", "fontSize": 22, "color": "#111", "dx": -37, "offset": -6},
   "data": {"name": "mdn"},
   "encoding": {
    "x": {"field": "w", "type": "nominal", "scale": {"domain": ["0.5 - 1.0","1.0 - 1.5","1.5 - 2.0","2.0 - 2.5","2.5 - 3.0","3.0 - 3.5","3.5 - 4.0","4.0 - 4.5"], "paddingInner": 0, "paddingOuter": 0}, "axis": {"title": null, "labelAngle": 0, "labelFontSize": 13, "labelColor": "#111", "tickSize": 6, "labelPadding": 3, "labelLineHeight": 17, "labelExpr": "[substring(datum.value, 0, 5), substring(datum.value, 6)]"}},
    "xOffset": {"field": "c", "type": "nominal", "scale": {"domain": ["baseline", "look"], "paddingOuter": 0.25, "paddingInner": 0}},
    "color": {"field": "c", "type": "nominal", "scale": {"domain": ["look", "baseline"], "range": ["#fbc878", "#58a5dc"]},
      "legend": {"orient": "none", "legendX": 17, "legendY": 427, "title": null, "symbolType": "square", "symbolSize": 80, "labelFontSize": 13, "labelColor": "#111", "padding": 0, "rowPadding": 0, "clipHeight": 12, "labelOffset": 4}}
   },
   "layer": [
    {"mark": {"type": "point", "shape": "M-1,-1L1,1M-1,1L1,-1", "size": 36, "filled": false, "strokeWidth": 1.6, "opacity": 1},
     "encoding": {"y": {"field": "m", "type": "quantitative", "title": "Mdn. rot. vel. (deg/s)", "scale": {"domain": [0, 5], "nice": false}, "axis": {"values": [0,1,2,3,4,5], "format": "d", "labelFontSize": 13, "titleFontSize": 12.5, "labelColor": "#111", "tickSize": 6, "titlePadding": 6}}}},
    {"mark": {"type": "rule", "strokeWidth": 1.5}, "encoding": {"y": {"field": "lo", "type": "quantitative", "title": "Mdn. rot. vel. (deg/s)"}, "y2": {"field": "hi"}}},
    {"mark": {"type": "tick", "size": 10, "thickness": 1.5}, "encoding": {"y": {"field": "lo", "type": "quantitative", "title": "Mdn. rot. vel. (deg/s)"}}},
    {"mark": {"type": "tick", "size": 10, "thickness": 1.5}, "encoding": {"y": {"field": "hi", "type": "quantitative", "title": "Mdn. rot. vel. (deg/s)"}}}
   ]},
  {"width": 340, "height": 454,
   "title": {"text": "C", "anchor": "start", "frame": "group", "fontSize": 22, "color": "#111", "dx": -38, "offset": -6},
   "data": {"name": "sd"},
   "encoding": {
    "x": {"field": "w", "type": "nominal", "scale": {"domain": ["0.5 - 1.0","1.0 - 1.5","1.5 - 2.0","2.0 - 2.5","2.5 - 3.0","3.0 - 3.5","3.5 - 4.0","4.0 - 4.5"], "paddingInner": 0, "paddingOuter": 0}, "axis": {"title": null, "labelAngle": 0, "labelFontSize": 13, "labelColor": "#111", "tickSize": 6, "labelPadding": 3, "labelLineHeight": 17, "labelExpr": "[substring(datum.value, 0, 5), substring(datum.value, 6)]"}},
    "xOffset": {"field": "c", "type": "nominal", "scale": {"domain": ["baseline", "look"], "paddingOuter": 0.25, "paddingInner": 0}},
    "color": {"field": "c", "type": "nominal", "scale": {"domain": ["look", "baseline"], "range": ["#fbc878", "#58a5dc"]},
      "legend": {"orient": "none", "legendX": 17, "legendY": 426, "title": null, "symbolType": "square", "symbolSize": 80, "labelFontSize": 13, "labelColor": "#111", "padding": 0, "rowPadding": 0, "clipHeight": 12, "labelOffset": 4}}
   },
   "layer": [
    {"mark": {"type": "point", "shape": "M-1,-1L1,1M-1,1L1,-1", "size": 36, "filled": false, "strokeWidth": 1.6, "opacity": 1},
     "encoding": {"y": {"field": "m", "type": "quantitative", "title": "Std. rot. vel. (deg/s)", "scale": {"domain": [0, 10], "nice": false}, "axis": {"values": [0,2,4,6,8,10], "format": "d", "labelFontSize": 13, "titleFontSize": 12.5, "labelColor": "#111", "tickSize": 6, "titlePadding": 6}}}},
    {"mark": {"type": "rule", "strokeWidth": 1.5}, "encoding": {"y": {"field": "lo", "type": "quantitative", "title": "Std. rot. vel. (deg/s)"}, "y2": {"field": "hi"}}},
    {"mark": {"type": "tick", "size": 10, "thickness": 1.5}, "encoding": {"y": {"field": "lo", "type": "quantitative", "title": "Std. rot. vel. (deg/s)"}}},
    {"mark": {"type": "tick", "size": 10, "thickness": 1.5}, "encoding": {"y": {"field": "hi", "type": "quantitative", "title": "Std. rot. vel. (deg/s)"}}}
   ]}
 ]
}
],
"spacing": 15,
"resolve": {"scale": {"color": "independent", "stroke": "independent"}, "legend": {"color": "independent", "stroke": "independent"}}
}
